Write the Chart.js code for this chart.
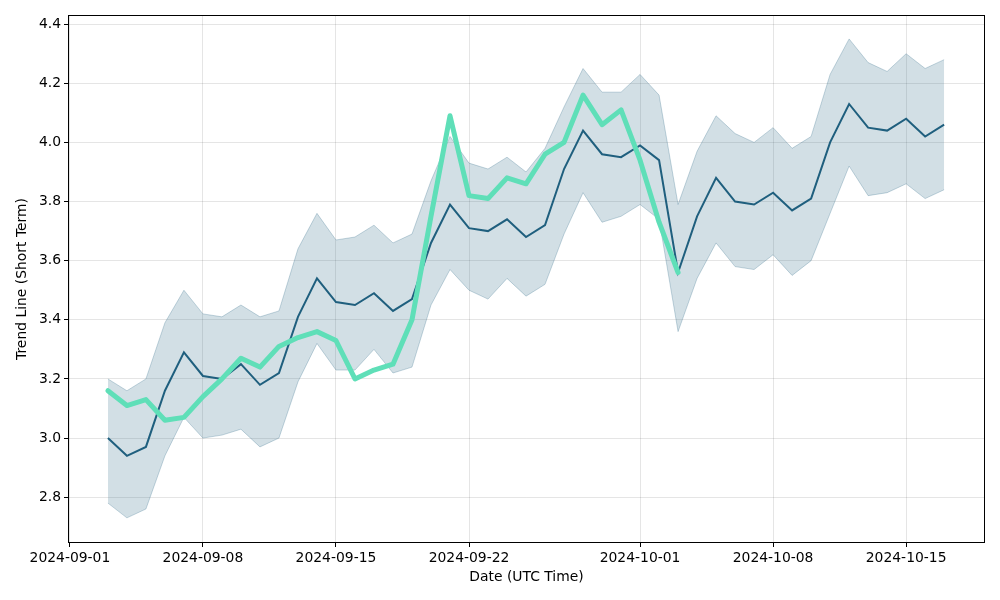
<!DOCTYPE html>
<html>
<head>
<meta charset="utf-8">
<script src="https://cdn.jsdelivr.net/npm/chart.js@4"></script>
<style>
  html, body { margin: 0; padding: 0; background: #fff; }
  #wrap { width: 1000px; height: 600px; position: relative; }
</style>
</head>
<body>
<div id="wrap"><canvas id="c" width="1000" height="600"></canvas></div>
<script>
const dates = [
  "2024-09-03","2024-09-04","2024-09-05","2024-09-06","2024-09-07","2024-09-08","2024-09-09","2024-09-10","2024-09-11","2024-09-12",
  "2024-09-13","2024-09-14","2024-09-15","2024-09-16","2024-09-17","2024-09-18","2024-09-19","2024-09-20","2024-09-21","2024-09-22",
  "2024-09-23","2024-09-24","2024-09-25","2024-09-26","2024-09-27","2024-09-28","2024-09-29","2024-09-30","2024-10-01","2024-10-02",
  "2024-10-03","2024-10-04","2024-10-05","2024-10-06","2024-10-07","2024-10-08","2024-10-09","2024-10-10","2024-10-11","2024-10-12",
  "2024-10-13","2024-10-14","2024-10-15","2024-10-16","2024-10-17"
];
const meanLine = [
  3.00, 2.94, 2.97, 3.16, 3.29, 3.21, 3.20, 3.25, 3.18, 3.22,
  3.41, 3.54, 3.46, 3.45, 3.49, 3.43, 3.47, 3.66, 3.79, 3.71,
  3.70, 3.74, 3.68, 3.72, 3.91, 4.04, 3.96, 3.95, 3.99, 3.94,
  3.56, 3.75, 3.88, 3.80, 3.79, 3.83, 3.77, 3.81, 4.00, 4.13,
  4.05, 4.04, 4.08, 4.02, 4.06
];
const upperBand = [
  3.20, 3.16, 3.20, 3.39, 3.50, 3.42, 3.41, 3.45, 3.41, 3.43,
  3.64, 3.76, 3.67, 3.68, 3.72, 3.66, 3.69, 3.87, 4.02, 3.93,
  3.91, 3.95, 3.90, 3.98, 4.12, 4.25, 4.17, 4.17, 4.23, 4.16,
  3.79, 3.97, 4.09, 4.03, 4.00, 4.05, 3.98, 4.02, 4.23, 4.35,
  4.27, 4.24, 4.30, 4.25, 4.28
];
const lowerBand = [
  2.78, 2.73, 2.76, 2.94, 3.07, 3.00, 3.01, 3.03, 2.97, 3.00,
  3.19, 3.32, 3.23, 3.23, 3.30, 3.22, 3.24, 3.45, 3.57, 3.50,
  3.47, 3.54, 3.48, 3.52, 3.69, 3.83, 3.73, 3.75, 3.79, 3.74,
  3.36, 3.54, 3.66, 3.58, 3.57, 3.62, 3.55, 3.60, 3.76, 3.92,
  3.82, 3.83, 3.86, 3.81, 3.84
];
const greenLine = [
  3.16, 3.11, 3.13, 3.06, 3.07, 3.14, 3.20, 3.27, 3.24, 3.31,
  3.34, 3.36, 3.33, 3.20, 3.23, 3.25, 3.40, 3.75, 4.09, 3.82,
  3.81, 3.88, 3.86, 3.96, 4.00, 4.16, 4.06, 4.11, 3.94, 3.73,
  3.56
];
const xTickDates = ["2024-09-01","2024-09-08","2024-09-15","2024-09-22","2024-10-01","2024-10-08","2024-10-15"];
const yTicks = [2.8, 3.0, 3.2, 3.4, 3.6, 3.8, 4.0, 4.2, 4.4];

const DAY = 86400000;
const base = Date.UTC(2024, 8, 1);
const dayOf = s => (Date.parse(s + "T00:00:00Z") - base) / DAY;
const pts = arr => arr.map((v, i) => ({ x: dayOf(dates[i]), y: v }));

const FONT = { family: "'DejaVu Sans', sans-serif", size: 13.9 };

const frame = {
  id: 'frame',
  afterDraw(chart) {
    const a = chart.chartArea, ctx = chart.ctx;
    ctx.save();
    ctx.strokeStyle = '#000';
    ctx.lineWidth = 1;
    ctx.strokeRect(Math.round(a.left) + 0.5, Math.round(a.top) + 0.5,
                   Math.round(a.right - a.left) - 1, Math.round(a.bottom - a.top) - 1);
    ctx.restore();
  }
};

new Chart(document.getElementById('c'), {
  type: 'line',
  data: {
    datasets: [
      { label: 'green', data: pts(greenLine), borderColor: '#5fdfb8', borderWidth: 5,
        pointRadius: 0, tension: 0, fill: false, order: 0, borderJoinStyle: 'round', borderCapStyle: 'round' },
      { label: 'mean', data: pts(meanLine), borderColor: '#1f5f7e', borderWidth: 2,
        pointRadius: 0, tension: 0, fill: false, order: 1 },
      { label: 'upper', data: pts(upperBand), borderColor: 'rgba(31,95,127,0.25)', borderWidth: 1,
        backgroundColor: 'rgba(31,95,127,0.2)', pointRadius: 0, tension: 0, fill: '+1', order: 2 },
      { label: 'lower', data: pts(lowerBand), borderColor: 'rgba(31,95,127,0.25)', borderWidth: 1,
        pointRadius: 0, tension: 0, fill: false, order: 3 }
    ]
  },
  options: {
    responsive: false,
    animation: false,
    events: [],
    layout: { padding: { top: 15, right: 15, left: 0, bottom: 0 } },
    plugins: { legend: { display: false }, tooltip: { enabled: false } },
    scales: {
      x: {
        type: 'linear',
        min: -0.1, max: 48.15,
        afterBuildTicks: s => { s.ticks = xTickDates.map(d => ({ value: dayOf(d) })); },
        afterFit: s => { s.height = 57; },
        ticks: {
          color: '#000', font: FONT, padding: 3, maxRotation: 0, autoSkip: false,
          callback: v => new Date(base + v * DAY).toISOString().slice(0, 10)
        },
        grid: { color: 'rgba(0,0,0,0.1)', tickColor: '#000', tickLength: 4, drawTicks: true },
        border: { display: false },
        title: { display: true, text: 'Date (UTC Time)', color: '#000', font: FONT, padding: { top: 4, bottom: 14 } }
      },
      y: {
        type: 'linear',
        min: 2.645, max: 4.431,
        afterBuildTicks: s => { s.ticks = yTicks.map(v => ({ value: v })); },
        afterFit: s => { s.width = 68; },
        ticks: {
          color: '#000', font: FONT, padding: 3,
          callback: v => Number(v).toFixed(1)
        },
        grid: { color: 'rgba(0,0,0,0.1)', tickColor: '#000', tickLength: 4, drawTicks: true },
        border: { display: false },
        title: { display: true, text: 'Trend Line (Short Term)', color: '#000', font: FONT, padding: { top: 14, bottom: 4 } }
      }
    }
  },
  plugins: [frame]
});
</script>
</body>
</html>
